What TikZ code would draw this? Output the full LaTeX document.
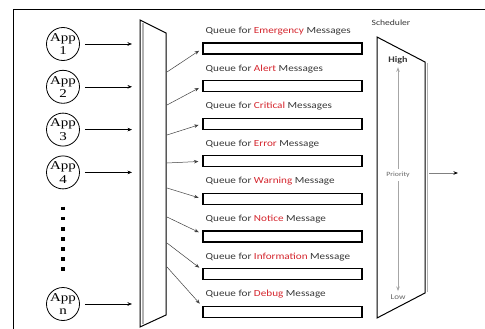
\documentclass[tikz,border=0pt]{standalone}
\usepackage{fontspec}
\newfontfamily\qfont[FakeStretch=1.2]{Carlito}
\newfontfamily\appfont[FakeStretch=1.25]{Liberation Serif}
\usetikzlibrary{positioning, arrows.meta}
\definecolor{msgred}{RGB}{212,36,44}
\definecolor{msggray}{RGB}{55,55,55}

\begin{document}
\begin{tikzpicture}[x=1pt, y=-1pt, >={Stealth[length=4.5pt,width=3.5pt]},
    app/.style={circle, draw, thick, minimum size=33pt, inner sep=0pt},
    apptext/.style={font=\appfont\fontsize{12}{13.5}\selectfont, align=center},
    queue/.style={draw, line width=1.1pt, minimum width=159pt, minimum height=11pt, inner sep=0pt},
    qlabel/.style={font=\qfont\fontsize{9.3}{10}\selectfont, text=msggray, inner sep=0pt},
    link/.style={->, draw=black!75, line width=0.5pt, shorten >=4pt}]

    \useasboundingbox (0,0) rectangle (485,329);
    \draw[line width=0.8pt] (13,329) -- (13,9) -- (485,9);

    % applications
    \node[app, label={[apptext]center:App\\1}] (app1) at (63,44) {};
    \node[app, label={[apptext]center:App\\2}, below=9pt of app1] (app2) {};
    \node[app, label={[apptext]center:App\\3}, below=9pt of app2] (app3) {};
    \node[app, label={[apptext]center:App\\4}, below=9pt of app3] (app4) {};
    \node[app, label={[apptext]center:App\\n}] (appn) at (63,304) {};
    \draw[line width=4.5pt, dash pattern=on 3.6pt off 6.5pt] (63,206.7) -- (63,272);

    % multiplexer
    \draw[line width=1pt, fill=white] (140,20) -- (166,33) -- (166,315) -- (140,327) -- cycle;
    \draw[gray!60, line width=1.2pt] (143,23) -- (143,324);
    \coordinate (muxin) at (140,0);
    \draw[->, shorten <=5pt, shorten >=8pt] (app1) -- (app1 -| muxin);
    \draw[->, shorten <=5pt, shorten >=8pt] (app2) -- (app2 -| muxin);
    \draw[->, shorten <=5pt, shorten >=8pt] (app3) -- (app3 -| muxin);
    \draw[->, shorten <=5pt, shorten >=8pt] (app4) -- (app4 -| muxin);
    \draw[->, shorten <=5pt, shorten >=8pt] (appn) -- (appn -| muxin);

    \coordinate (m1) at (167,72);
    \coordinate (m2) at (167,105);
    \coordinate (m3) at (167,135);
    \coordinate (m4) at (167,163);
    \coordinate (m5) at (167,188);
    \coordinate (m6) at (167,217);
    \coordinate (m7) at (167,243);
    \coordinate (m8) at (167,267);

    % queues
    \node[queue] (q1) at (282.5,48.5) {};
    \node[queue, below=25.5pt of q1] (q2) {};
    \node[queue, below=25.5pt of q2] (q3) {};
    \node[queue, below=25.5pt of q3] (q4) {};
    \node[queue, below=25.5pt of q4] (q5) {};
    \node[queue, below=25.5pt of q5] (q6) {};
    \node[queue, below=25.5pt of q6] (q7) {};
    \node[queue, below=25.5pt of q7] (q8) {};

    \node[qlabel, above right=9pt and 3pt of q1.north west, anchor=base west] (l1) {Queue for \textcolor{msgred}{Emergency} Messages};
    \node[qlabel, above right=9pt and 3pt of q2.north west, anchor=base west] (l2) {Queue for \textcolor{msgred}{Alert} Messages};
    \node[qlabel, above right=9pt and 3pt of q3.north west, anchor=base west] (l3) {Queue for \textcolor{msgred}{Critical} Messages};
    \node[qlabel, above right=9pt and 3pt of q4.north west, anchor=base west] (l4) {Queue for \textcolor{msgred}{Error} Message};
    \node[qlabel, above right=9pt and 3pt of q5.north west, anchor=base west] (l5) {Queue for \textcolor{msgred}{Warning} Message};
    \node[qlabel, above right=9pt and 3pt of q6.north west, anchor=base west] (l6) {Queue for \textcolor{msgred}{Notice} Message};
    \node[qlabel, above right=9pt and 3pt of q7.north west, anchor=base west] (l7) {Queue for \textcolor{msgred}{Information} Message};
    \node[qlabel, above right=9pt and 3pt of q8.north west, anchor=base west] (l8) {Queue for \textcolor{msgred}{Debug} Message};

    \draw[link] (m1) -- (q1.west);
    \draw[link] (m2) -- (q2.west);
    \draw[link] (m3) -- (q3.west);
    \draw[link] (m4) -- (q4.west);
    \draw[link] (m5) -- (q5.west);
    \draw[link] (m6) -- ([yshift=2.5pt]q6.west);
    \draw[link] (m7) -- ([yshift=4pt]q7.west);
    \draw[link] (m8) -- ([yshift=5pt]q8.west);

    % scheduler
    \draw[line width=1pt, fill=white] (377,37) -- (425,62) -- (425,293) -- (377,318) -- cycle;
    \draw[gray!60, line width=1.2pt] (427.5,63) -- (427.5,292);
    \node[font=\qfont\fontsize{8}{9}\selectfont, text=msggray] (sched) at (391,23) {Scheduler};
    \node[font=\qfont\bfseries\fontsize{8.5}{9}\selectfont, text=msggray] (high) at (398,60) {High};
    \node[font=\qfont\fontsize{6.5}{7}\selectfont, text=black!60] (prio) at (398,175) {Priority};
    \node[font=\qfont\fontsize{7.5}{8}\selectfont, text=black!60] (low) at (398,297) {Low};
    \draw[->, gray!70, line width=0.9pt] (prio) -- (high);
    \draw[->, gray!70, line width=0.9pt] (prio) -- (low);

    \coordinate (schedout) at (429,173);
    \coordinate (out) at (458,173);
    \draw[-{Stealth[length=4.5pt,width=3.5pt,black]}, gray, line width=0.8pt] (schedout) -- (out);
\end{tikzpicture}
\end{document}
